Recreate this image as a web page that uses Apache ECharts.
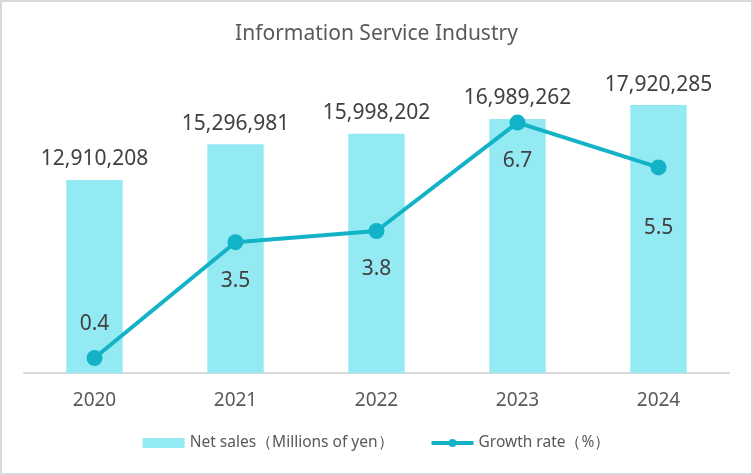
<!DOCTYPE html>
<html>
<head>
<meta charset="utf-8">
<script src="https://cdn.jsdelivr.net/npm/echarts@6/dist/echarts.min.js"></script>
<style>
  html, body { margin: 0; padding: 0; background: #fff; }
  #chart { position: absolute; left: 0; top: 0; width: 749px; height: 471px; border: 2px solid #d9d9d9; }
</style>
</head>
<body>
<div id="chart"></div>
<script>
// data
var years = ['2020', '2021', '2022', '2023', '2024'];
var netSales = [12910208, 15296981, 15998202, 16989262, 17920285];
var growthRate = [0.4, 3.5, 3.8, 6.7, 5.5];

var font = '"Noto Sans", sans-serif';

var chart = echarts.init(document.getElementById('chart'));

// growth labels sit below the points, except the first one
var growthData = growthRate.map(function (v, i) {
  var lbl = { position: i === 0 ? 'top' : 'bottom', distance: i === 0 ? 16 : 20 };
  if (i === years.length - 1) lbl.distance = 42;
  return { value: v, label: lbl };
});

chart.setOption({
  animation: false,
  title: {
    text: 'Information Service Industry',
    left: 'center',
    top: 17,
    textStyle: { fontFamily: font, fontSize: 21, fontWeight: 'normal', color: '#595959' }
  },
  legend: {
    bottom: 17,
    left: 'center',
    itemGap: 36,
    textStyle: { fontFamily: font, fontSize: 15.5, color: '#595959' },
    lineStyle: { width: 4 },
    data: [
      { name: 'Net sales（Millions of yen）', icon: 'rect', itemStyle: { color: '#93eaf3' } },
      { name: 'Growth rate（%）' }
    ],
    itemWidth: 42,
    itemHeight: 10
  },
  grid: { left: 22, right: 22, top: 72, bottom: 100 },
  xAxis: {
    type: 'category',
    data: years,
    axisLine: { lineStyle: { color: '#d9d9d9', width: 2 } },
    axisTick: { show: false },
    axisLabel: { fontFamily: font, fontSize: 19, color: '#595959', margin: 18 }
  },
  yAxis: [
    { type: 'value', min: 0, max: 20000000, show: false, splitLine: { show: false } },
    { type: 'value', min: 0, max: 8, show: false, splitLine: { show: false } }
  ],
  series: [
    {
      name: 'Net sales（Millions of yen）',
      type: 'bar',
      data: netSales,
      barWidth: '40%',
      itemStyle: { color: '#93eaf3' },
      label: {
        show: true,
        position: 'top',
        distance: 10,
        fontFamily: font,
        fontSize: 21,
        color: '#404040',
        formatter: function (p) { return p.value.toLocaleString('en-US'); }
      }
    },
    {
      name: 'Growth rate（%）',
      type: 'line',
      yAxisIndex: 1,
      data: growthData,
      symbol: 'circle',
      symbolSize: 16,
      lineStyle: { color: '#13b3c7', width: 4 },
      itemStyle: { color: '#13b3c7' },
      label: { show: true, fontFamily: font, fontSize: 21, color: '#404040' }
    }
  ]
});
</script>
</body>
</html>
